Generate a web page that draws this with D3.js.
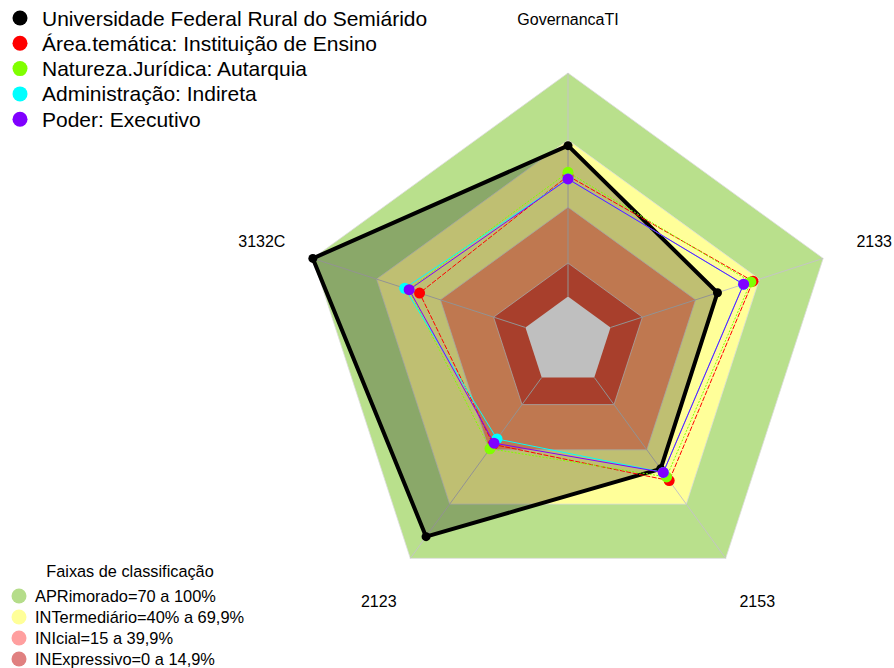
<!DOCTYPE html>
<html><head><meta charset="utf-8">
<script src="https://cdn.jsdelivr.net/npm/d3@7"></script>
<style>body{margin:0;background:#fff}svg{display:block}text{font-family:"Liberation Sans",Arial,sans-serif;fill:#000}</style>
</head><body>
<svg id="c" width="894" height="668"></svg>
<script>
const categories = ["GovernancaTI", "2133", "2153", "2123", "3132C"];
const seriesNames = ["Universidade Federal Rural do Semiárido", "Área.temática: Instituição de Ensino", "Natureza.Jurídica: Autarquia", "Administração: Indireta", "Poder: Executivo"];
const ufersa = [67.5, 50.3, 50.5, 88, 100];
const areaTematica = [54, 67, 57, 37, 49.8];
const naturezaJuridica = [55.6, 66, 55, 39.4, 55];
const administracao = [52.6, 62.5, 52.5, 34, 56.8];
const poder = [52.6, 62.6, 52.5, 36.3, 54.7];
const seriesColors = ["#000000", "#ff0000", "#80ff00", "#00ffff", "#8000ff"];
const bandLevels = [100, 70, 40, 15];
const bandLabels = ["APRimorado=70 a 100%", "INTermediário=40% a 69,9%", "INIcial=15 a 39,9%", "INExpressivo=0 a 14,9%"];
const bandColors = ["#b9e08c", "#ffff99", "#ffa06b", "#e0553b"];
const bandLegendColors = ["#b5dd8a", "#ffff99", "#ff9f9f", "#e08080"];

const svg = d3.select("#c");
const cx = 568, cy = 341.3, R = 268.3;
const r = d3.scaleLinear().domain([0, 100]).range([R / 6, R]);
const ang = d3.scaleLinear().domain([0, categories.length]).range([0, 2 * Math.PI]);
const g = svg.append("g").attr("transform", `translate(${cx},${cy})`);
const radial = d3.lineRadial().angle((d, i) => ang(i)).radius(d => r(d)).curve(d3.curveLinearClosed);
const px = (v, i) => r(v) * Math.sin(ang(i));
const py = (v, i) => -r(v) * Math.cos(ang(i));

// bands
bandLevels.forEach((lv, k) => {
  g.append("path").attr("d", radial(categories.map(() => lv)))
    .attr("fill", bandColors[k]).attr("stroke", "#dcdcdc").attr("stroke-width", 0.8);
});
g.append("path").attr("d", radial(categories.map(() => 0))).attr("fill", "#ffffff");

// axes
categories.forEach((c, i) => {
  g.append("line").attr("x1", px(0, i)).attr("y1", py(0, i)).attr("x2", px(100, i)).attr("y2", py(100, i))
    .attr("stroke", "#c4c4c4").attr("stroke-width", 1);
});

// axis labels
categories.forEach((c, i) => {
  g.append("text").attr("x", 1.2 * R * Math.sin(ang(i))).attr("y", -1.2 * R * Math.cos(ang(i)))
    .attr("text-anchor", "middle").attr("dy", "0.35em").attr("font-size", 16).text(c);
});

// series
const allSeries = [ufersa, areaTematica, naturezaJuridica, administracao, poder];
const dashes = [null, "5,1.5", "2,1.5", null, null];
allSeries.forEach((s, k) => {
  g.append("path").attr("d", radial(s))
    .attr("fill", k === 0 ? "rgba(0,0,0,0.25)" : "none")
    .attr("stroke", seriesColors[k]).attr("stroke-width", k === 0 ? 4 : 1)
    .attr("stroke-dasharray", dashes[k]).attr("stroke-linejoin", "round");
  s.forEach((v, i) => {
    g.append("circle").attr("cx", px(v, i)).attr("cy", py(v, i)).attr("r", k === 0 ? 4.5 : 5.5)
      .attr("fill", seriesColors[k]);
  });
});

// top legend
const lg = svg.append("g");
seriesNames.forEach((n, k) => {
  const y = 18 + k * 25.3;
  lg.append("circle").attr("cx", 20).attr("cy", y).attr("r", 7.5).attr("fill", seriesColors[k]);
  lg.append("text").attr("x", 42).attr("y", y).attr("dy", "0.36em").attr("font-size", 21).text(n);
});

// bottom legend
const bl = svg.append("g");
bl.append("text").attr("x", 130).attr("y", 571).attr("dy", "0.35em").attr("text-anchor", "middle").attr("font-size", 16.3).text("Faixas de classificação");
bandLabels.forEach((n, k) => {
  const y = 596 + k * 21;
  bl.append("circle").attr("cx", 19).attr("cy", y).attr("r", 7.5).attr("fill", bandLegendColors[k]);
  bl.append("text").attr("x", 35).attr("y", y).attr("dy", "0.36em").attr("font-size", 16.4).text(n);
});
</script>
</body></html>
